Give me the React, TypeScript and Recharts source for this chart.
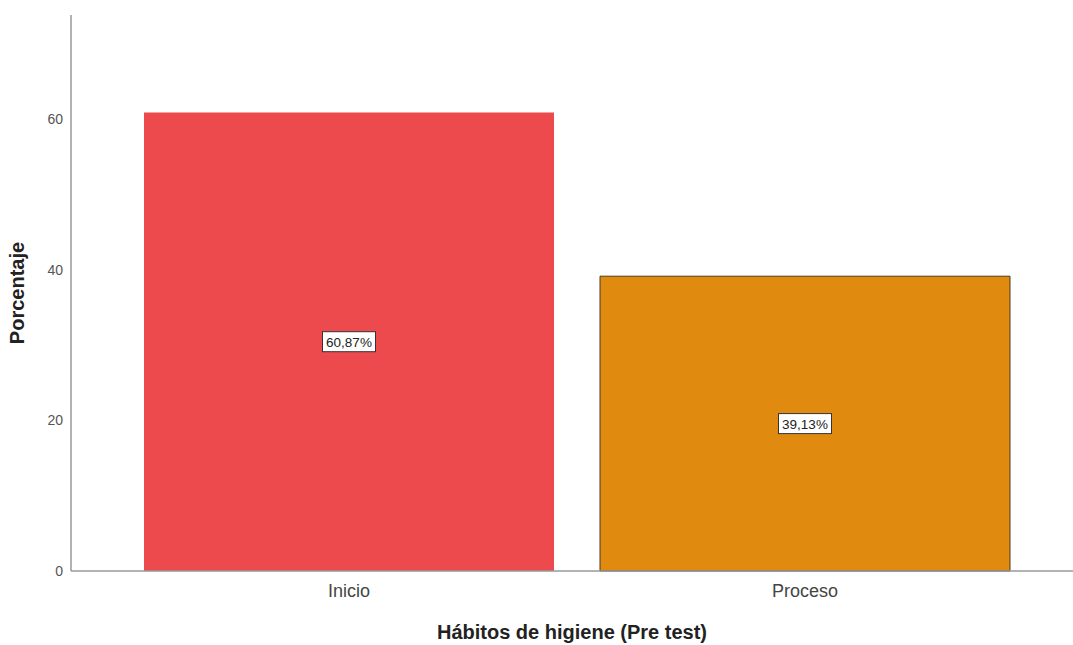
import React from 'react';
import { BarChart, Bar, XAxis, YAxis, Cell, LabelList, Label } from 'recharts';

const categories = ['Inicio', 'Proceso'];
const percentages = [60.87, 39.13];
const labels = ['60,87%', '39,13%'];
const yTicks = [0, 20, 40, 60];

const COLORS = ['#EC4A4D', '#E08A10'];
const STROKES = ['none', '#4a3a20'];

const data = categories.map((name, i) => ({ name, value: percentages[i], label: labels[i] }));

const FONT = '"Liberation Sans", Arial, sans-serif';

const BoxLabel = (props: any) => {
  const { x, y, width, height, value } = props;
  const cx = x + width / 2;
  const cy = y + height / 2;
  const w = 53;
  const h = 20;
  return (
    <g>
      <rect x={cx - w / 2} y={cy - h / 2} width={w} height={h} fill="#fff" stroke="#333" strokeWidth={1} />
      <text x={cx} y={cy + 5} textAnchor="middle" fontSize={13.5} fill="#222" fontFamily={FONT}>
        {value}
      </text>
    </g>
  );
};

export default function App() {
  return (
    <div style={{ position: 'absolute', left: 0, top: 0, width: 1073, height: 645, background: '#fff' }}>
      <BarChart
        width={1073}
        height={645}
        data={data}
        margin={{ top: 15, right: 0, bottom: 24, left: 0 }}
        barCategoryGap={23}
      >
        <XAxis
          dataKey="name"
          height={50}
          stroke="#999"
          strokeWidth={1.5}
          tickLine={false}
          padding={{ left: 50, right: 40 }}
          tick={{ fontSize: 18, fill: '#444', fontFamily: FONT }}
          tickMargin={7}
        >
          <Label
            value="Hábitos de higiene (Pre test)"
            position="bottom"
            offset={4}
            style={{ fontSize: 20, fontWeight: 'bold', fill: '#222', fontFamily: FONT }}
          />
        </XAxis>
        <YAxis
          width={71}
          domain={[0, 73.8]}
          ticks={yTicks}
          stroke="#999"
          strokeWidth={1.5}
          tickLine={false}
          tickMargin={2}
          tick={{ fontSize: 14, fill: '#555', fontFamily: FONT }}
        >
          <Label
            value="Porcentaje"
            angle={-90}
            position="insideLeft"
            offset={17}
            style={{ fontSize: 20, fontWeight: 'bold', fill: '#222', fontFamily: FONT, textAnchor: 'middle' }}
          />
        </YAxis>
        <Bar dataKey="value" isAnimationActive={false}>
          {data.map((d, i) => (
            <Cell key={d.name} fill={COLORS[i]} stroke={STROKES[i]} strokeWidth={1} />
          ))}
          <LabelList dataKey="label" content={BoxLabel} />
        </Bar>
      </BarChart>
    </div>
  );
}
